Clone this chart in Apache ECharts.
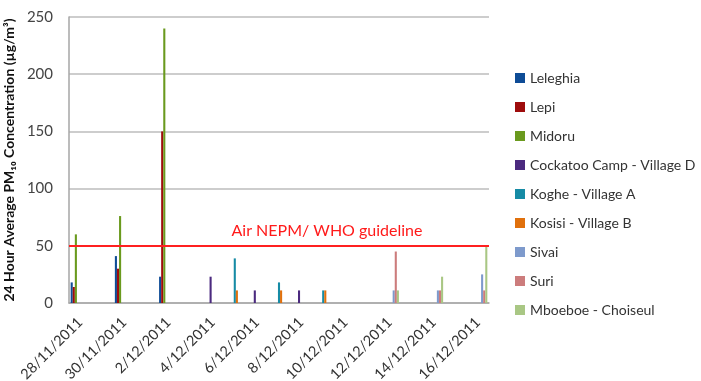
<!DOCTYPE html>
<html>
<head>
<meta charset="utf-8">
<script src="https://cdn.jsdelivr.net/npm/echarts@6/dist/echarts.min.js"></script>
<style>
html,body{margin:0;padding:0;background:#fff;}
#chart{width:701px;height:381px;}
</style>
</head>
<body>
<div id="chart"></div>
<script>
var dates = ['28/11/2011','29/11/2011','30/11/2011','1/12/2011','2/12/2011','3/12/2011','4/12/2011','5/12/2011','6/12/2011','7/12/2011','8/12/2011','9/12/2011','10/12/2011','11/12/2011','12/12/2011','13/12/2011','14/12/2011','15/12/2011','16/12/2011'];
var seriesNames = ['Leleghia','Lepi','Midoru','Cockatoo Camp - Village D','Koghe - Village A','Kosisi - Village B','Sivai','Suri','Mboeboe - Choiseul'];
var leleghia = [18,null,41,null,23,null,null,null,null,null,null,null,null,null,null,null,null,null,null];
var lepi     = [14,null,30,null,150,null,null,null,null,null,null,null,null,null,null,null,null,null,null];
var midoru   = [60,null,76,null,240,null,null,null,null,null,null,null,null,null,null,null,null,null,null];
var cockatoo = [null,null,null,null,null,null,23,null,11,null,11,null,null,null,null,null,null,null,null];
var koghe    = [null,null,null,null,null,null,null,39,null,18,null,11,null,null,null,null,null,null,null];
var kosisi   = [null,null,null,null,null,null,null,11,null,11,null,11,null,null,null,null,null,null,null];
var sivai    = [null,null,null,null,null,null,null,null,null,null,null,null,null,null,11,null,11,null,25];
var suri     = [null,null,null,null,null,null,null,null,null,null,null,null,null,null,45,null,11,null,11];
var mboeboe  = [null,null,null,null,null,null,null,null,null,null,null,null,null,null,11,null,23,null,50];
var guidelineValue = 50;
var guidelineLabel = 'Air NEPM/ WHO guideline';
var yTitle = '24 Hour Average PM\u2081\u2080 Concentration (\u00b5g/m\u00b3)';

var values = [leleghia, lepi, midoru, cockatoo, koghe, kosisi, sivai, suri, mboeboe];
var colors = ['#0E4C96','#9E0C0C','#6A9A1E','#4B2A7F','#168BA5','#E0700C','#7E9ACC','#CC7C7C','#A9C784'];
var font = 'Lato, "Open Sans", sans-serif';

var series = seriesNames.map(function(n, i){
  var s = {
    name: n, type: 'bar', data: values[i],
    barGap: '0%', barCategoryGap: '15%',
    itemStyle: {color: colors[i]}
  };
  if (i === 0) {
    s.markLine = {
      silent: true, symbol: ['none','none'], z: 10,
      lineStyle: {color: '#FF2020', width: 2, type: 'solid'},
      label: {show: true, position: 'insideMiddleTop', formatter: guidelineLabel,
        color: '#FF1A1A', fontSize: 16, fontFamily: font, offset: [48, -2]},
      data: [{yAxis: guidelineValue}]
    };
  }
  return s;
});

var chart = echarts.init(document.getElementById('chart'));
chart.setOption({
  backgroundColor: '#fff',
  animation: false,
  color: colors,
  grid: {left: 69, right: 212, top: 17, bottom: 78, outerBoundsMode: 'none'},
  legend: {
    orient: 'vertical', left: 515, top: 71, padding: 0,
    itemWidth: 10, itemHeight: 10, itemGap: 15,
    icon: 'rect',
    textStyle: {fontFamily: font, fontSize: 14, color: '#333'},
    data: seriesNames
  },
  xAxis: {
    type: 'category', data: dates,
    axisLine: {lineStyle: {color: '#A6A6A6', width: 1.5}},
    axisTick: {show: false},
    axisLabel: {interval: 1, rotate: 45, fontFamily: font, fontSize: 14.5, color: '#333', margin: 17}
  },
  yAxis: {
    type: 'value', min: 0, max: 250, interval: 50,
    name: yTitle, nameLocation: 'middle', nameGap: 46,
    nameTextStyle: {fontFamily: font, fontSize: 14, fontWeight: 'bold', color: '#111'},
    axisLine: {show: true, lineStyle: {color: '#A6A6A6', width: 1.5}},
    axisTick: {show: false},
    axisLabel: {fontFamily: font, fontSize: 15, color: '#444', margin: 16},
    splitLine: {lineStyle: {color: '#BDBDBD', width: 1.5}}
  },
  series: series
});
</script>
</body>
</html>
